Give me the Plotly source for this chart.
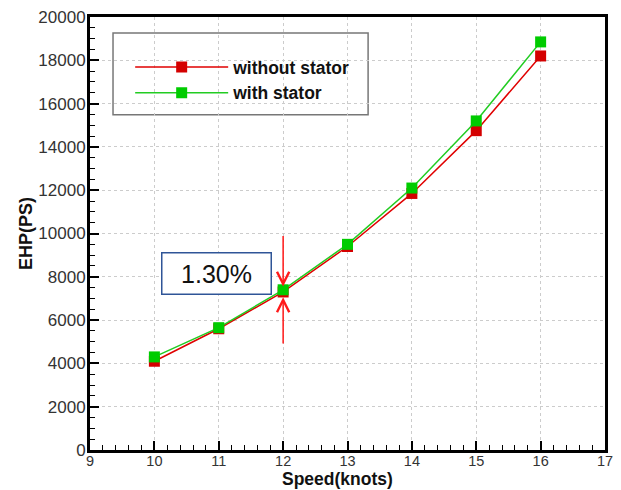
import plotly.graph_objects as go

speed = [10, 11, 12, 13, 14, 15, 16]
ehp_without = [4100, 5600, 7300, 9400, 11850, 14750, 18200]
ehp_with = [4300, 5650, 7400, 9500, 12100, 15200, 18850]
series_names = ["without stator", "with stator"]
annot_text = "1.30%"
x_title = "<b>Speed(knots)</b>"
y_title = "<b>EHP(PS)</b>"

fig = go.Figure()
fig.add_trace(go.Scatter(x=speed, y=ehp_without, name=series_names[0], mode="lines+markers",
                         line=dict(color="#e00000", width=1.5),
                         marker=dict(symbol="square", size=11, color="#d40000")))
fig.add_trace(go.Scatter(x=speed, y=ehp_with, name=series_names[1], mode="lines+markers",
                         line=dict(color="#22cc22", width=1.5),
                         marker=dict(symbol="square", size=11, color="#00cc00")))

font = "Liberation Sans, Arial, sans-serif"
fig.update_layout(
    width=613, height=482,
    margin=dict(l=82, r=16, t=9, b=40),
    paper_bgcolor="white", plot_bgcolor="white",
    font=dict(family=font, size=14, color="#333"),
    showlegend=True,
    legend=dict(x=0.078, y=0.926, xanchor="left", yanchor="top",
                borderwidth=0, bgcolor="rgba(0,0,0,0)",
                font=dict(size=17.5, color="#111", family=font, weight="bold"),
                itemwidth=93, tracegroupgap=0),
    xaxis=dict(range=[9, 17], dtick=1, tick0=9, ticks="inside", ticklen=9, tickwidth=2,
               tickcolor="black", showline=True, linewidth=3, linecolor="black", mirror=True,
               showgrid=True, gridcolor="#cccccc", griddash="dot", gridwidth=1,
               zeroline=False, automargin=False, ticklabeloverflow="allow", ticklabelstandoff=-4,
               minor=dict(dtick=0.2, ticks="inside", ticklen=5, tickwidth=1, tickcolor="black", showgrid=False),
               tickfont=dict(size=14.5, color="#333")),
    yaxis=dict(range=[0, 20000], dtick=2000, ticks="inside", ticklen=9, tickwidth=2,
               tickcolor="black", showline=True, linewidth=3, linecolor="black", mirror=True,
               showgrid=True, gridcolor="#cccccc", griddash="dot", gridwidth=1,
               zeroline=False, tickformat="d", automargin=False, ticklabeloverflow="allow",
               ticklabelstandoff=-2,
               minor=dict(dtick=500, ticks="inside", ticklen=5, tickwidth=1, tickcolor="black", showgrid=False),
               title=dict(text=y_title, font=dict(size=18, color="#111"), standoff=2),
               tickfont=dict(size=17, color="#333")),
)

# x-axis title
fig.add_annotation(x=0.48, y=-0.068, xref="paper", yref="paper", text=x_title, showarrow=False,
                   xanchor="center", yanchor="middle", font=dict(size=17.5, color="#111", family=font))

# legend frame
fig.add_shape(type="rect", xref="paper", yref="paper", x0=0.0447, x1=0.540, y0=0.774, y1=0.963,
              line=dict(color="#777", width=1.5), fillcolor="white", layer="below")

# percentage label box
fig.add_annotation(x=10.1, y=8150, xref="x", yref="y", text=annot_text, showarrow=False,
                   xanchor="left", yanchor="middle",
                   font=dict(size=25, color="#111", family=font),
                   bordercolor="#2f5597", borderwidth=1.5, borderpad=6, bgcolor="white",
                   width=96)
# arrows
fig.add_annotation(x=12, y=7550, ax=12, ay=9950, xref="x", yref="y", axref="x", ayref="y",
                   text="", showarrow=True, arrowhead=5, arrowsize=1.6, arrowwidth=1.5, arrowcolor="#ff1a1a")
fig.add_annotation(x=12, y=7050, ax=12, ay=4850, xref="x", yref="y", axref="x", ayref="y",
                   text="", showarrow=True, arrowhead=5, arrowsize=1.6, arrowwidth=1.5, arrowcolor="#ff1a1a")

fig.write_html("out.html")
